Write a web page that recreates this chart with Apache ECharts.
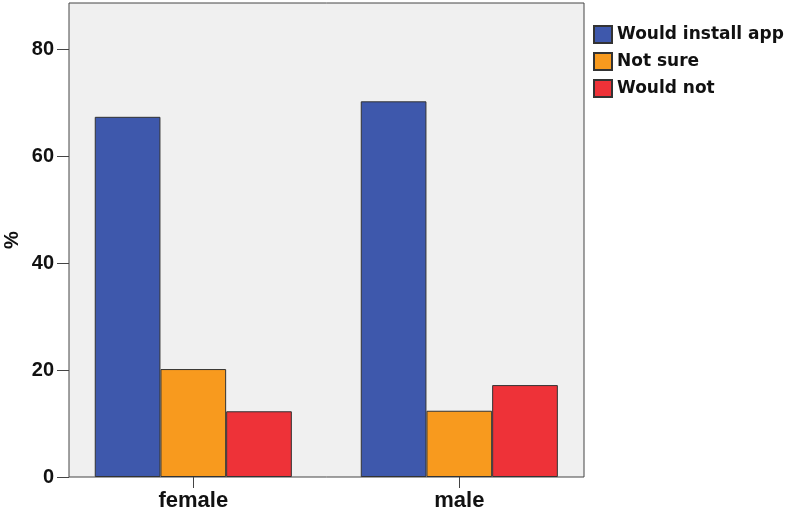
<!DOCTYPE html>
<html>
<head>
<meta charset="utf-8">
<script src="https://cdn.jsdelivr.net/npm/echarts@6/dist/echarts.min.js"></script>
<style>
  html, body { margin: 0; padding: 0; background: #fff; }
  #chart { width: 787px; height: 512px; }
</style>
</head>
<body>
<div id="chart"></div>
<script>
// data (% of respondents)
const categories = ['female', 'male'];
const seriesNames = ['Would install app', 'Not sure', 'Would not'];
const installApp = [67.4, 70.3];
const notSure = [20.2, 12.4];
const wouldNot = [12.3, 17.2];
const yTicks = [0, 20, 40, 60, 80];

const colors = ['#3E58AC', '#F89A1E', '#EE3238'];
const yMax = 88.7;
const tickFont = { fontFamily: 'Liberation Sans', fontWeight: 'bold', fontSize: 20, color: '#111' };

let chart = echarts.init(document.getElementById('chart'));

function barSeries(name, data, i) {
    return {
        name: name,
        type: 'bar',
        xAxisIndex: 1,
        yAxisIndex: 1,
        data: data,
        barWidth: 65.7,
        barGap: '0%',
        itemStyle: { color: colors[i], borderColor: '#333', borderWidth: 1 },
        emphasis: { disabled: true }
    };
}

chart.setOption({
    animation: false,
    legend: {
        orient: 'vertical',
        left: 588,
        top: 20,
        itemWidth: 18,
        itemHeight: 17,
        itemGap: 8,
        icon: 'rect',
        data: seriesNames,
        textStyle: { fontFamily: 'DejaVu Sans', fontWeight: 'bold', fontSize: 17, color: '#111' }
    },
    // y axis title
    graphic: [{
        type: 'text',
        x: 12,
        y: 240,
        rotation: Math.PI / 2,
        style: {
            text: '%',
            font: 'bold 20px "Liberation Sans"',
            fill: '#111',
            align: 'center',
            verticalAlign: 'middle'
        }
    }],
    grid: [
        // frame with grey plot background
        { left: 69, top: 3, width: 515, height: 474, outerBoundsMode: 'none', show: true, backgroundColor: '#F0F0F0', borderColor: '#444', borderWidth: 1 },
        // bars
        { left: 60.3, top: 3, width: 532, height: 474, outerBoundsMode: 'none' }
    ],
    xAxis: [
        { gridIndex: 0, type: 'category', data: categories, show: false },
        {
            gridIndex: 1,
            type: 'category',
            data: categories,
            axisLine: { show: false },
            axisTick: { show: true, alignWithLabel: true, length: 11, lineStyle: { color: '#444' } },
            axisLabel: Object.assign({ margin: 13 }, tickFont, { fontSize: 22 })
        }
    ],
    yAxis: [
        {
            gridIndex: 0,
            type: 'value',
            min: 0,
            max: yMax,
            interval: 20,
            axisLine: { show: false },
            axisTick: { show: true, length: 12, lineStyle: { color: '#444' } },
            splitLine: { show: false },
            axisLabel: Object.assign({
                margin: 15,
                showMaxLabel: false,
                formatter: v => (yTicks.indexOf(v) >= 0 ? String(v) : '')
            }, tickFont)
        },
        { gridIndex: 1, type: 'value', min: 0, max: yMax, show: false }
    ],
    series: [
        barSeries(seriesNames[0], installApp, 0),
        barSeries(seriesNames[1], notSure, 1),
        barSeries(seriesNames[2], wouldNot, 2)
    ]
});
</script>
</body>
</html>
